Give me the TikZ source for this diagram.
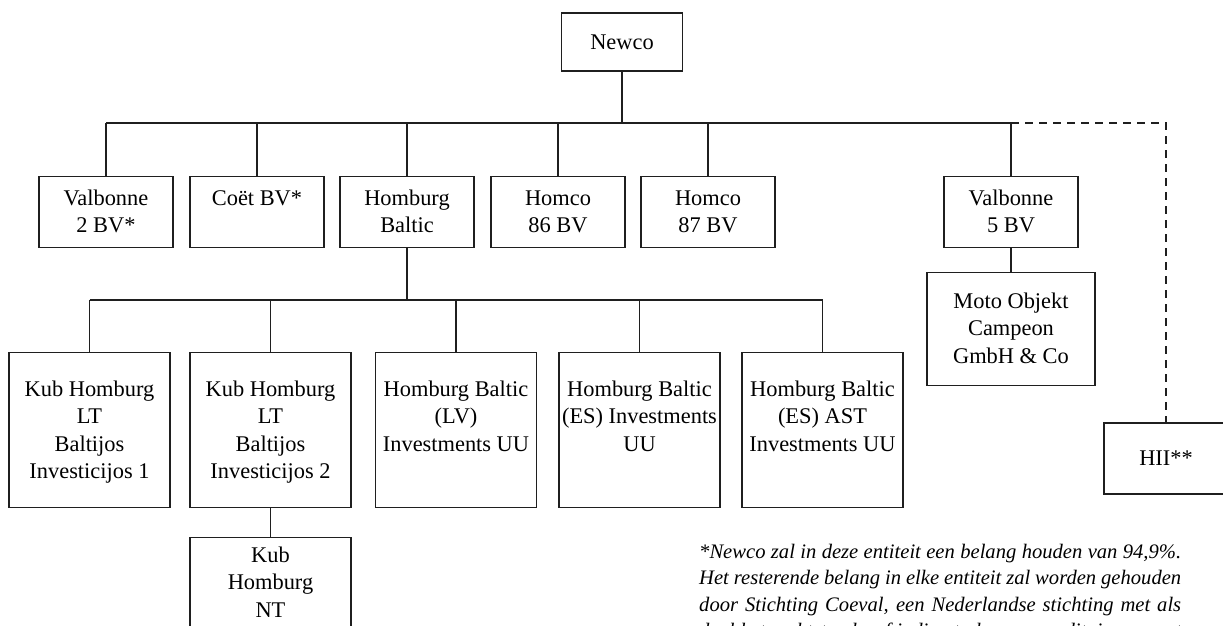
\documentclass[tikz,border=0pt]{standalone}
\usepackage{fontspec}
\setmainfont{Liberation Serif}
\usetikzlibrary{calc}
\tikzset{
  boxst/.style={draw=black!88, line width=1.3pt, rectangle, inner sep=0pt, font=\fontsize{22.4}{27.5}\selectfont},
  bus/.style={draw=black!88, line width=2pt},
  drop/.style={draw=black!88, line width=1.3pt},
  dashbus/.style={draw=black!88, line width=1.6pt, dash pattern=on 8pt off 6pt},
  txt/.style={inner sep=0pt, font=\fontsize{22.4}{27.5}\selectfont},
  note/.style={inner sep=0pt, anchor=base west, font=\fontsize{20.6}{26.5}\selectfont\itshape},
}
\newcommand\ent[8]{%
  \node[boxst, minimum width=#4pt, minimum height=#5pt, anchor=north] (#1) at (#2,#3) {};
  \node[txt, anchor=base] (#1-t) at ($(#1.north)+(0,#6)$) {\parbox[t]{#7pt}{\centering #8}};
}
\begin{document}
\begin{tikzpicture}[x=1pt,y=-1pt]
\useasboundingbox (0,0) rectangle (1223,626);
% top
\node[boxst, minimum width=121pt, minimum height=58pt] (newco) at (622,42) {Newco};
\coordinate (busY) at (0,123);
\coordinate (subY) at (0,300);
% level 1
\ent{v2}{106}{176}{134}{71}{29}{170}{Valbonne\\2 BV*}
\ent{coet}{257}{176}{134}{71}{29}{170}{Co\"et BV*}
\ent{hb}{407}{176}{134}{71}{29}{170}{Homburg\\Baltic}
\ent{h86}{558}{176}{134}{71}{29}{170}{Homco\\86 BV}
\ent{h87}{708}{176}{134}{71}{29}{170}{Homco\\87 BV}
\ent{v5}{1011}{176}{134}{71}{29}{170}{Valbonne\\5 BV}
\ent{moto}{1011}{272}{168}{113}{36}{200}{Moto Objekt\\Campeon\\GmbH \& Co}
\node[boxst, minimum width=124pt, minimum height=71pt] (hii) at (1166,458.5) {HII**};
% level 2
\ent{k1}{89.5}{352}{161}{155}{44}{200}{Kub Homburg\\LT\\Baltijos\\Investicijos 1}
\ent{k2}{270.5}{352}{161}{155}{44}{200}{Kub Homburg\\LT\\Baltijos\\Investicijos 2}
\ent{lv}{456}{352}{161}{155}{44}{200}{Homburg Baltic\\(LV)\\Investments UU}
\ent{es}{639.5}{352}{161}{155}{44}{200}{Homburg Baltic\\(ES) Investments\\UU}
\ent{ast}{822.5}{352}{161}{155}{44}{200}{Homburg Baltic\\(ES) AST\\Investments UU}
\ent{knt}{270.5}{537}{161}{130}{25}{200}{Kub\\Homburg\\NT}
% connectors
\draw[bus] (newco.south) -- (newco.south |- busY);
\draw[bus] (v2.north |- busY) -- (v5.north |- busY);
\foreach \n in {v2,coet,hb,h86,h87,v5} \draw[drop] (\n.north) -- (\n.north |- busY);
\draw[dashbus] (v5.north |- busY) -- (hii.north |- busY) -- (hii.north);
\draw[drop] (v5.south) -- (moto.north);
\draw[bus] (hb.south) -- (hb.south |- subY);
\draw[bus] (k1.north |- subY) -- (ast.north |- subY);
\foreach \n in {k1,k2,lv,es,ast} \draw[drop] (\n.north) -- (\n.north |- subY);
\draw[drop] (k2.south) -- (knt.north);
% footnote
\node[note] (fn) at (699,558) {\parbox[t]{482pt}{%
\makebox[482pt][s]{*Newco zal in deze entiteit een belang houden van 94,9\%.}\\
\makebox[482pt][s]{Het resterende belang in elke entiteit zal worden gehouden}\\
\makebox[482pt][s]{door Stichting Coeval, een Nederlandse stichting met als}\\
\makebox[482pt][s]{doel het rechtstreeks of indirect als commanditair vennoot}}};
\end{tikzpicture}
\end{document}
